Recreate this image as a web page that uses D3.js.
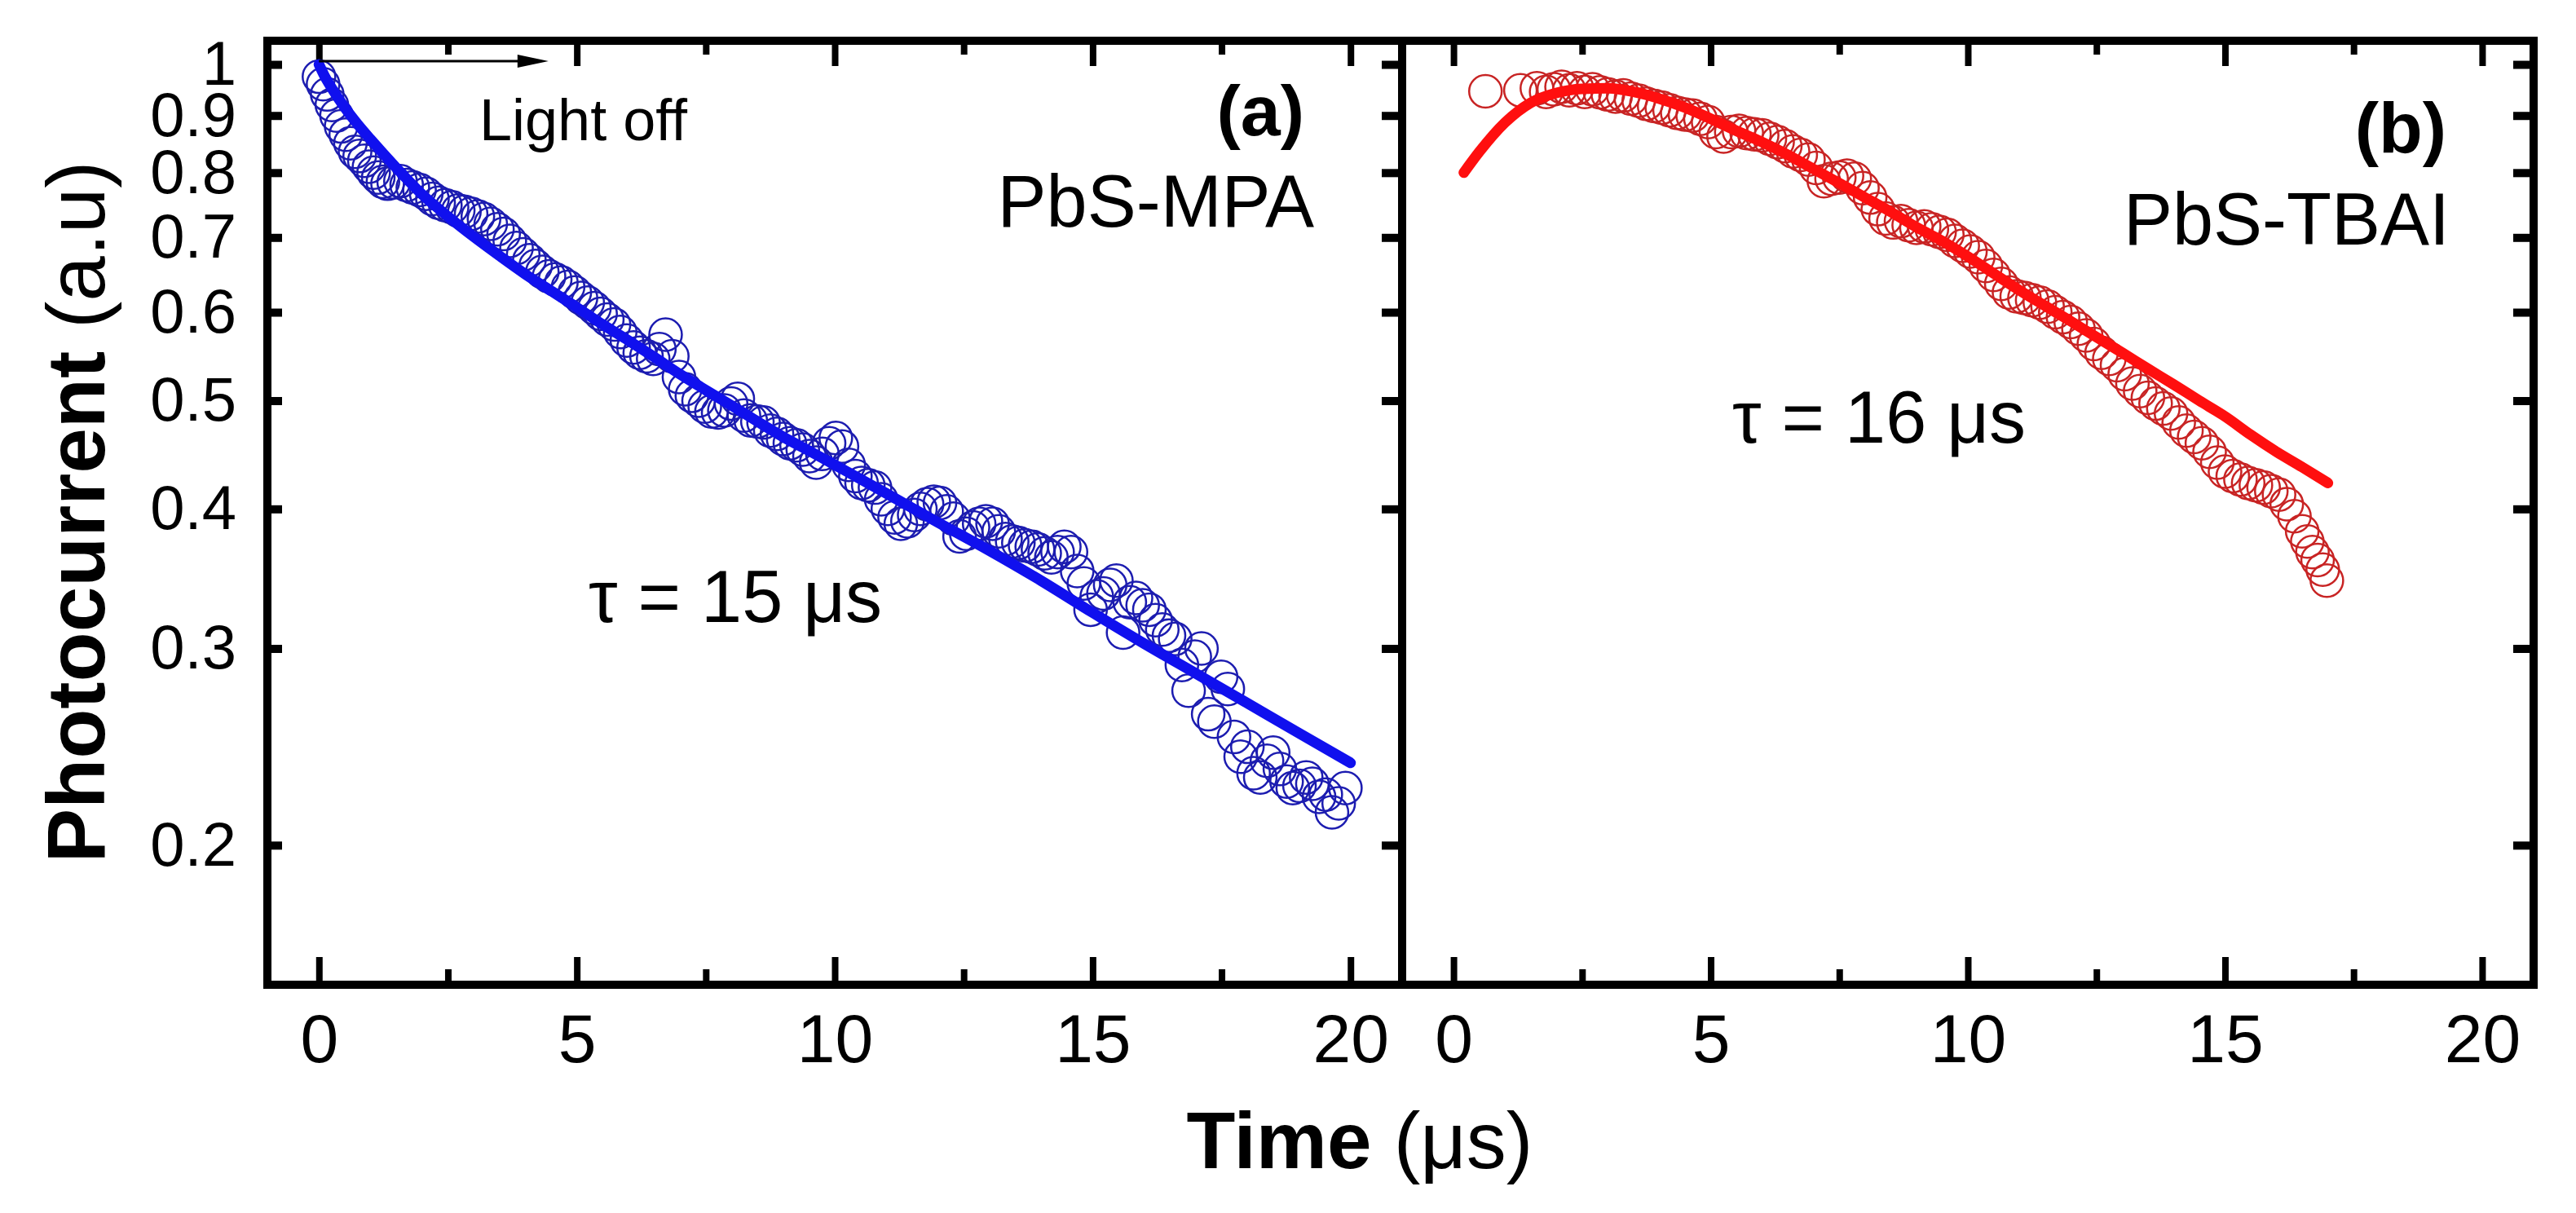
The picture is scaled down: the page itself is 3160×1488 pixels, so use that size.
<!DOCTYPE html>
<html>
<head>
<meta charset="utf-8">
<script src="https://cdn.jsdelivr.net/npm/d3@7"></script>
<style>
  body { margin: 0; background: #fff; }
  svg { display: block; background: #fff; }
  text { font-family: "Liberation Sans", Arial, sans-serif; fill: #000; }
</style>
</head>
<body>
<svg id="chart" width="3160" height="1488"></svg>
<script>
// tick values
const X_MAJOR = [0, 5, 10, 15, 20];
const X_MINOR = [2.5, 7.5, 12.5, 17.5];
const Y_TICKS = [1, 0.9, 0.8, 0.7, 0.6, 0.5, 0.4, 0.3, 0.2];

// (a) PbS-MPA measured decay
const mpaTime = [
  0.00, 0.08, 0.16, 0.25, 0.34, 0.43, 0.52, 0.61, 0.70, 0.79,
  0.88, 0.97, 1.06, 1.15, 1.24, 1.33, 1.45, 1.58, 1.70, 1.82,
  1.95, 2.08, 2.20, 2.32, 2.45, 2.58, 2.70, 2.82, 2.95, 3.08,
  3.20, 3.33, 3.46, 3.58, 3.70, 3.83, 3.96, 4.08, 4.20, 4.33,
  4.46, 4.58, 4.70, 4.83, 4.96, 5.08, 5.21, 5.34, 5.46, 5.59,
  5.72, 5.84, 5.97, 6.10, 6.22, 6.35, 6.48, 6.60, 6.72, 6.85,
  6.98, 7.10, 7.23, 7.36, 7.48, 7.61, 7.74, 7.86, 7.99, 8.12,
  8.24, 8.37, 8.50, 8.62, 8.75, 8.88, 9.00, 9.13, 9.26, 9.38,
  9.51, 9.64, 9.76, 9.89, 10.02, 10.14, 10.27, 10.40, 10.52, 10.65,
  10.78, 10.90, 11.03, 11.16, 11.28, 11.41, 11.54, 11.66, 11.79, 11.92,
  12.04, 12.17, 12.30, 12.42, 12.55, 12.68, 12.80, 12.93, 13.06, 13.18,
  13.31, 13.44, 13.56, 13.69, 13.82, 13.94, 14.07, 14.20, 14.32, 14.45,
  14.58, 14.70, 14.83, 14.96, 15.08, 15.21, 15.34, 15.46, 15.59, 15.72,
  15.84, 15.97, 16.10, 16.22, 16.35, 16.48, 16.60, 16.73, 16.86, 16.98,
  17.11, 17.24, 17.36, 17.49, 17.62, 17.74, 17.87, 18.00, 18.12, 18.25,
  18.38, 18.50, 18.63, 18.76, 18.88, 19.01, 19.14, 19.26, 19.39, 19.52,
  19.64, 19.77, 19.90
];
const mpaCurrent = [
  0.975, 0.960, 0.940, 0.920, 0.900, 0.880, 0.865, 0.850, 0.835, 0.828,
  0.820, 0.810, 0.800, 0.792, 0.785, 0.782, 0.784, 0.786, 0.780, 0.776,
  0.772, 0.766, 0.758, 0.752, 0.748, 0.745, 0.740, 0.738, 0.735, 0.731,
  0.727, 0.720, 0.712, 0.705, 0.695, 0.685, 0.676, 0.668, 0.660, 0.652,
  0.646, 0.642, 0.638, 0.632, 0.625, 0.618, 0.612, 0.605, 0.598, 0.591,
  0.585, 0.576, 0.566, 0.558, 0.552, 0.548, 0.545, 0.556, 0.573, 0.548,
  0.525, 0.512, 0.505, 0.500, 0.494, 0.489, 0.488, 0.490, 0.497, 0.502,
  0.485, 0.480, 0.479, 0.478, 0.470, 0.467, 0.462, 0.458, 0.456, 0.452,
  0.446, 0.440, 0.448, 0.458, 0.463, 0.455, 0.438, 0.428, 0.422, 0.420,
  0.418, 0.408, 0.400, 0.393, 0.388, 0.390, 0.395, 0.400, 0.404, 0.406,
  0.405, 0.398, 0.392, 0.378, 0.380, 0.385, 0.388, 0.390, 0.388, 0.382,
  0.376, 0.374, 0.373, 0.371, 0.370, 0.368, 0.365, 0.362, 0.366, 0.370,
  0.366, 0.352, 0.343, 0.325, 0.334, 0.336, 0.342, 0.345, 0.310, 0.330,
  0.333, 0.328, 0.325, 0.318, 0.312, 0.308, 0.306, 0.290, 0.275, 0.295,
  0.300, 0.262, 0.258, 0.283, 0.276, 0.250, 0.240, 0.245, 0.232, 0.230,
  0.238, 0.242, 0.234, 0.228, 0.225, 0.226, 0.230, 0.227, 0.221, 0.222,
  0.214, 0.218, 0.225
];

// (a) fitted curve
const mpaFitTime = [0, 0.1, 0.25, 0.5, 0.75, 1, 1.5, 2, 2.5, 3, 3.5, 4, 4.5, 5, 5.5, 6, 6.5, 7, 7.5, 8, 8.5, 9, 9.5, 10, 11, 12, 13, 14, 15, 16, 17, 18, 19, 20];
const mpaFitCurrent = [1.0, 0.978, 0.952, 0.915, 0.884, 0.857, 0.808, 0.765, 0.731, 0.701, 0.674, 0.649, 0.627, 0.606, 0.585, 0.566, 0.547, 0.528, 0.511, 0.495, 0.479, 0.464, 0.451, 0.438, 0.413, 0.389, 0.367, 0.345, 0.323, 0.303, 0.285, 0.268, 0.252, 0.237];

// (b) PbS-TBAI measured decay
const tbaiTime = [
  0.62, 1.30, 1.62, 1.80, 1.95, 2.10, 2.25, 2.40, 2.55, 2.70,
  2.85, 3.00, 3.15, 3.30, 3.45, 3.60, 3.75, 3.90, 4.05, 4.20,
  4.35, 4.50, 4.65, 4.80, 4.95, 5.10, 5.25, 5.40, 5.55, 5.70,
  5.85, 6.00, 6.15, 6.30, 6.45, 6.60, 6.75, 6.90, 7.05, 7.20,
  7.35, 7.50, 7.65, 7.80, 7.95, 8.10, 8.25, 8.40, 8.55, 8.70,
  8.85, 9.00, 9.15, 9.30, 9.45, 9.60, 9.75, 9.90, 10.05, 10.20,
  10.35, 10.50, 10.65, 10.80, 10.95, 11.10, 11.25, 11.40, 11.55, 11.70,
  11.85, 12.00, 12.15, 12.30, 12.45, 12.60, 12.75, 12.90, 13.05, 13.20,
  13.35, 13.50, 13.65, 13.80, 13.95, 14.10, 14.25, 14.40, 14.55, 14.70,
  14.85, 15.00, 15.15, 15.30, 15.45, 15.60, 15.75, 15.90, 16.05, 16.20,
  16.35, 16.50, 16.60, 16.70, 16.80, 16.90, 16.98
];
const tbaiCurrent = [
  0.946, 0.948, 0.952, 0.945, 0.950, 0.955, 0.948, 0.952, 0.945, 0.950,
  0.944, 0.940, 0.936, 0.938, 0.932, 0.928, 0.922, 0.918, 0.915, 0.910,
  0.905, 0.902, 0.900, 0.894, 0.888, 0.870, 0.862, 0.870, 0.872, 0.868,
  0.866, 0.864, 0.858, 0.852, 0.845, 0.836, 0.830, 0.822, 0.808, 0.786,
  0.790, 0.792, 0.795, 0.790, 0.775, 0.760, 0.742, 0.728, 0.722, 0.724,
  0.718, 0.714, 0.716, 0.712, 0.708, 0.704, 0.695, 0.688, 0.680, 0.672,
  0.660, 0.648, 0.636, 0.625, 0.620, 0.618, 0.615, 0.612, 0.607, 0.600,
  0.594, 0.588, 0.580, 0.572, 0.562, 0.552, 0.545, 0.538, 0.528, 0.518,
  0.510, 0.503, 0.497, 0.492, 0.487, 0.478, 0.470, 0.464, 0.458, 0.450,
  0.440, 0.432, 0.428, 0.425, 0.422, 0.420, 0.418, 0.415, 0.412, 0.404,
  0.394, 0.382, 0.374, 0.366, 0.360, 0.353, 0.345
];

// (b) fitted curve
const tbaiFitTime = [0.2, 0.5, 1.0, 1.5, 2.0, 2.5, 3.0, 3.5, 4.0, 4.5, 5.0, 5.5, 6.0, 6.5, 7.0, 7.5, 8.0, 8.5, 9.0, 9.5, 10.0, 10.5, 11.0, 11.5, 12.0, 12.5, 13.0, 13.5, 14.0, 14.5, 15.0, 15.5, 16.0, 16.5, 17.0];
const tbaiFitCurrent = [0.80, 0.835, 0.887, 0.924, 0.943, 0.951, 0.952, 0.945, 0.932, 0.915, 0.894, 0.872, 0.852, 0.830, 0.806, 0.783, 0.760, 0.738, 0.715, 0.695, 0.673, 0.650, 0.628, 0.608, 0.589, 0.570, 0.552, 0.534, 0.517, 0.500, 0.484, 0.466, 0.450, 0.436, 0.422];

const TOP = 50, BOTTOM = 1208;
const LEFT = 328, MID = 1720, RIGHT = 3108;

const svg = d3.select("#chart");

const y = d3.scaleLog().domain([0.15, 1.05]).range([BOTTOM, TOP]);
const xA = d3.scaleLinear().domain([-1, 21]).range([LEFT, MID]);
const xB = d3.scaleLinear().domain([-1, 21]).range([MID, RIGHT]);

function styleAxis(g, width) {
  g.select(".domain").remove();
  g.selectAll(".tick line").attr("stroke", "#000").attr("stroke-width", width);
  g.attr("font-family", null);
}

function drawXAxes(x) {
  // bottom, labelled
  svg.append("g")
    .attr("transform", `translate(0,${BOTTOM})`)
    .call(d3.axisBottom(x).tickValues(X_MAJOR).tickSizeInner(-34).tickSizeOuter(0)
      .tickPadding(35).tickFormat(d3.format("d")))
    .attr("font-size", 84)
    .call(g => styleAxis(g, 8));
  svg.append("g")
    .attr("transform", `translate(0,${BOTTOM})`)
    .call(d3.axisBottom(x).tickValues(X_MINOR).tickSizeInner(-19).tickSizeOuter(0).tickFormat(""))
    .call(g => styleAxis(g, 8));
  // top, ticks only
  svg.append("g")
    .attr("transform", `translate(0,${TOP})`)
    .call(d3.axisTop(x).tickValues(X_MAJOR).tickSizeInner(-31).tickSizeOuter(0).tickFormat(""))
    .call(g => styleAxis(g, 8));
  svg.append("g")
    .attr("transform", `translate(0,${TOP})`)
    .call(d3.axisTop(x).tickValues(X_MINOR).tickSizeInner(-17).tickSizeOuter(0).tickFormat(""))
    .call(g => styleAxis(g, 8));
}

drawXAxes(xA);
drawXAxes(xB);

// y axis with labels on the far left
svg.append("g")
  .attr("transform", `translate(${LEFT},0)`)
  .call(d3.axisLeft(y).tickValues(Y_TICKS).tickSizeInner(-18).tickSizeOuter(0)
    .tickPadding(38).tickFormat(d3.format("")))
  .attr("font-size", 76)
  .call(g => styleAxis(g, 10));

// inward ticks on the shared border and the right border
[MID, RIGHT].forEach(px => {
  svg.append("g")
    .attr("transform", `translate(${px},0)`)
    .call(d3.axisRight(y).tickValues(Y_TICKS).tickSizeInner(-25).tickSizeOuter(0).tickFormat(""))
    .call(g => styleAxis(g, 10));
});

// data
function drawSeries(x, times, values, fitT, fitV, dotColor, lineColor) {
  svg.append("g")
    .selectAll("circle")
    .data(d3.zip(times, values))
    .join("circle")
    .attr("cx", d => x(d[0]))
    .attr("cy", d => y(d[1]))
    .attr("r", 20)
    .attr("fill", "none")
    .attr("stroke", dotColor)
    .attr("stroke-width", 2.5);

  const line = d3.line()
    .x(d => x(d[0]))
    .y(d => y(d[1]))
    .curve(d3.curveMonotoneX);

  svg.append("path")
    .datum(d3.zip(fitT, fitV))
    .attr("d", line)
    .attr("fill", "none")
    .attr("stroke", lineColor)
    .attr("stroke-width", 13)
    .attr("stroke-linecap", "round");
}

drawSeries(xA, mpaTime, mpaCurrent, mpaFitTime, mpaFitCurrent, "#1c1cb0", "#1010ee");
drawSeries(xB, tbaiTime, tbaiCurrent, tbaiFitTime, tbaiFitCurrent, "#c82424", "#ff0f0f");

// frame
const frame = svg.append("g")
  .attr("stroke", "#000")
  .attr("stroke-width", 10)
  .attr("stroke-linecap", "square");
frame.append("line").attr("x1", LEFT).attr("x2", RIGHT).attr("y1", TOP).attr("y2", TOP);
frame.append("line").attr("x1", LEFT).attr("x2", RIGHT).attr("y1", BOTTOM).attr("y2", BOTTOM);
[LEFT, MID, RIGHT].forEach(px => {
  frame.append("line").attr("x1", px).attr("x2", px).attr("y1", TOP).attr("y2", BOTTOM);
});

// "Light off" arrow
const arrowY = y(1.007);
const arrowX0 = xA(0), arrowX1 = xA(4.45);
svg.append("line")
  .attr("x1", arrowX0).attr("x2", arrowX1 - 30)
  .attr("y1", arrowY).attr("y2", arrowY)
  .attr("stroke", "#000").attr("stroke-width", 3);
svg.append("path")
  .attr("d", `M${arrowX1},${arrowY} L${arrowX1 - 38},${arrowY - 8} L${arrowX1 - 38},${arrowY + 8} Z`)
  .attr("fill", "#000");

// annotations
function label(x, yPos, parts, size, anchor) {
  const t = svg.append("text")
    .attr("x", x).attr("y", yPos)
    .attr("font-size", size)
    .attr("text-anchor", anchor || "start");
  parts.forEach(p => t.append("tspan").attr("font-weight", p[1] ? "bold" : "normal").text(p[0]));
  return t;
}

label(588, 172, [["Light off"]], 72);
label(1600, 166, [["(a)", true]], 88, "end");
label(1612, 278, [["PbS-MPA"]], 90, "end");
label(722, 763, [["τ = 15 μs"]], 90);

label(3001, 187, [["(b)", true]], 88, "end");
label(3005, 300, [["PbS-TBAI"]], 90, "end");
label(2125, 543, [["τ = 16 μs"]], 90);

// axis titles
label(1668, 1433, [["Time", true], [" (μs)"]], 98, "middle");
label(0, 0, [["Photocurrent", true], [" (a.u)"]], 100, "middle")
  .attr("transform", "translate(128,628) rotate(-90)");
</script>
</body>
</html>
